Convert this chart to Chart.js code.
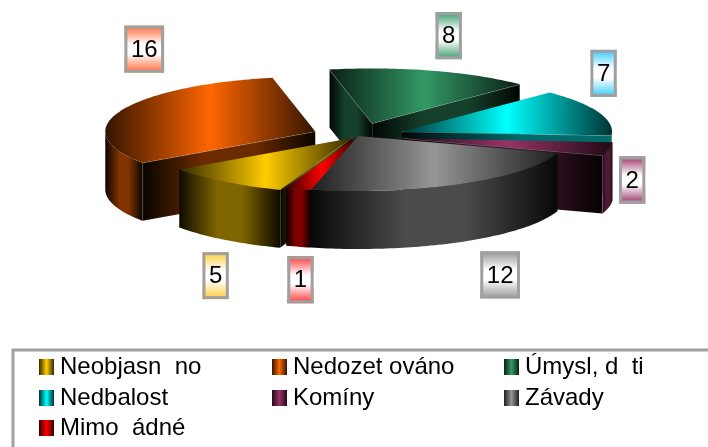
<!DOCTYPE html>
<html>
<head>
<meta charset="utf-8">
<title>Příčiny</title>
<style>
html, body { margin: 0; padding: 0; background: #fff; }
#graf { display: block; }
</style>
<script src="https://cdn.jsdelivr.net/npm/chart.js@4"></script>
</head>
<body>
<canvas id="graf" width="708" height="447"></canvas>
<script>
const categories = ["Neobjasn  no", "Nedozet ováno", "Úmysl, d  ti", "Nedbalost", "Komíny", "Závady", "Mimo  ádné"];
const values = [5, 16, 8, 7, 2, 12, 1];
const sliceColors = ["#ffcc00", "#ff6600", "#339966", "#00ffff", "#993366", "#969696", "#ff0000"];
const labelColors = ["#ffcc33", "#ff6633", "#339966", "#33ccff", "#993366", "#969696", "#ff3333"];
const explode = [10, 46, 50, 47, 46, 0, 0];
// where each value box sits relative to the rim of its slice
const labelNudge = [[-8, 94], [24, -62], [17, -35], [5, -39], [23, 31], [39, 91], [2, 91]];

const TILT = 0.262;
const DEPTH = 58;
const FONT = '24px "Liberation Sans", Arial, sans-serif';

function shade(hex, f) {
    let n = parseInt(hex.slice(1), 16);
    let r = Math.round(((n >> 16) & 255) * f);
    let g = Math.round(((n >> 8) & 255) * f);
    let b = Math.round((n & 255) * f);
    return "rgb(" + r + "," + g + "," + b + ")";
}

function hGradient(ctx, x0, x1, color, edge, mid, flat) {
    let g = ctx.createLinearGradient(x0, 0, x1, 0);
    g.addColorStop(0, shade(color, edge));
    g.addColorStop(0.5 - (flat || 0), shade(color, mid));
    g.addColorStop(0.5 + (flat || 0), shade(color, mid));
    g.addColorStop(1, shade(color, edge));
    return g;
}

function rimPoints(s, a0, a1) {
    let pts = [];
    let n = Math.max(2, Math.ceil((a1 - a0) / 0.02));
    for (let i = 0; i <= n; i++) {
        let a = a0 + (a1 - a0) * i / n;
        pts.push([s.x + s.r * Math.cos(a), s.y + s.r * TILT * Math.sin(a)]);
    }
    return pts;
}

function fillPoly(ctx, pts, fill) {
    ctx.beginPath();
    pts.forEach(function (p, i) {
        if (i === 0) ctx.moveTo(p[0], p[1]);
        else ctx.lineTo(p[0], p[1]);
    });
    ctx.closePath();
    ctx.fillStyle = fill;
    ctx.fill();
}

function xRange(pts) {
    let xs = pts.map(function (p) { return p[0]; });
    return [Math.min.apply(null, xs), Math.max.apply(null, xs)];
}

function edgeLine(ctx, a, b) {
    ctx.beginPath();
    ctx.moveTo(a[0], a[1]);
    ctx.lineTo(b[0], b[1]);
    ctx.strokeStyle = "rgba(255,255,255,0.4)";
    ctx.lineWidth = 0.8;
    ctx.stroke();
}

function cutFace(ctx, s, a, color) {
    let rim = rimPoints(s, a, a)[0];
    let apex = [s.x, s.y];
    let quad = [apex, rim, [rim[0], rim[1] + DEPTH], [apex[0], apex[1] + DEPTH]];
    let r = xRange(quad);
    // a face lying almost along the x axis stays lit up to its far end
    let x1 = Math.abs(Math.sin(a)) < 0.1 ? r[0] + (r[1] - r[0]) * 1.6 : r[1];
    fillPoly(ctx, quad, hGradient(ctx, r[0], x1, color, 0.03, 0.42, 0.15));
    edgeLine(ctx, apex, rim);
    edgeLine(ctx, rim, quad[2]);
}

function outerWall(ctx, s, color) {
    // only the front half of the rim can be seen
    for (let k = 0; k <= 1; k++) {
        let lo = Math.max(s.a0, k * 2 * Math.PI);
        let hi = Math.min(s.a1, Math.PI + k * 2 * Math.PI);
        if (hi <= lo) continue;
        let top = rimPoints(s, lo, hi);
        let bottom = top.map(function (p) { return [p[0], p[1] + DEPTH]; }).reverse();
        let r = xRange(top);
        let edge = r[1] - r[0] < 20 ? 0.3 : 0.05;
        fillPoly(ctx, top.concat(bottom), hGradient(ctx, r[0], r[1], color, edge, 0.5, 0.12));
    }
}

const pie3d = {
    id: "pie3d",
    beforeDatasetDraw: function (chart) {
        let ctx = chart.ctx;
        let count = values.length;
        let slices = chart.getDatasetMeta(0).data.map(function (arc, i) {
            let p = arc.getProps(["x", "y", "startAngle", "endAngle", "outerRadius"]);
            let a0 = p.startAngle % (2 * Math.PI);
            let a1 = a0 + (p.endAngle - p.startAngle);
            let mid = (a0 + a1) / 2;
            return {
                i: i, a0: a0, a1: a1, mid: mid, r: p.outerRadius,
                x: p.x + explode[i] * Math.cos(mid),
                y: p.y + explode[i] * TILT * Math.sin(mid)
            };
        });

        // back to front
        let order = slices.slice().sort(function (a, b) {
            return Math.sin(a.mid) - Math.sin(b.mid);
        });
        order.forEach(function (s) {
            let color = sliceColors[s.i];
            // slices that are not pulled apart hide the face they share
            let prev = explode[(s.i + count - 1) % count];
            let next = explode[(s.i + 1) % count];
            if (Math.cos(s.a0) < 0 && prev !== explode[s.i]) cutFace(ctx, s, s.a0, color);
            if (Math.cos(s.a1) > 0 && next !== explode[s.i]) cutFace(ctx, s, s.a1, color);
            outerWall(ctx, s, color);
            let top = rimPoints(s, s.a0, s.a1);
            let r = xRange(top.concat([[s.x, s.y]]));
            fillPoly(ctx, top.concat([[s.x, s.y]]), hGradient(ctx, r[0], r[1], color, 0.2, 1));
        });

        // value boxes
        ctx.font = FONT;
        ctx.textAlign = "center";
        ctx.textBaseline = "middle";
        slices.forEach(function (s) {
            let txt = String(values[s.i]);
            let cx = s.x + s.r * Math.cos(s.mid) + labelNudge[s.i][0];
            let cy = s.y + s.r * TILT * Math.sin(s.mid) + labelNudge[s.i][1];
            let w = ctx.measureText(txt).width + 13;
            let h = 47;
            let g = ctx.createLinearGradient(0, cy - h / 2, 0, cy + h / 2);
            g.addColorStop(0, labelColors[s.i]);
            g.addColorStop(0.4, "#ffffff");
            g.addColorStop(0.6, "#ffffff");
            g.addColorStop(1, labelColors[s.i]);
            ctx.fillStyle = g;
            ctx.fillRect(cx - w / 2, cy - h / 2, w, h);
            ctx.strokeStyle = "#a0a0a0";
            ctx.lineWidth = 3;
            ctx.strokeRect(cx - w / 2 + 1.5, cy - h / 2 + 1.5, w - 3, h - 3);
            ctx.fillStyle = "#000";
            ctx.fillText(txt, cx, cy + 1);
        });
        return false;
    },
    afterDraw: function (chart) {
        // legend frame runs off the right and bottom of the picture
        let ctx = chart.ctx;
        ctx.save();
        ctx.strokeStyle = "#a0a0a0";
        ctx.lineWidth = 3;
        ctx.strokeRect(13, 350, 720, 120);
        ctx.font = FONT;
        ctx.textAlign = "left";
        ctx.textBaseline = "middle";
        const colX = [39, 272, 504];
        const rowY = [367, 398, 428];
        categories.forEach(function (name, i) {
            let x = colX[i % 3];
            let y = rowY[Math.floor(i / 3)];
            ctx.fillStyle = hGradient(ctx, x, x + 15, sliceColors[i], 0.2, 1);
            ctx.fillRect(x, y - 8, 15, 16);
            ctx.fillStyle = "#000";
            ctx.fillText(name, x + 21, y);
        });
        ctx.restore();
    }
};

new Chart(document.getElementById("graf"), {
    type: "pie",
    data: {
        labels: categories,
        datasets: [{
            data: values,
            backgroundColor: sliceColors,
            borderWidth: 0
        }]
    },
    options: {
        responsive: false,
        animation: false,
        rotation: 200,
        radius: 210,
        layout: { padding: { left: 8, bottom: 175 } },
        plugins: {
            legend: { display: false },
            tooltip: { enabled: false }
        }
    },
    plugins: [pie3d]
});
</script>
</body>
</html>
